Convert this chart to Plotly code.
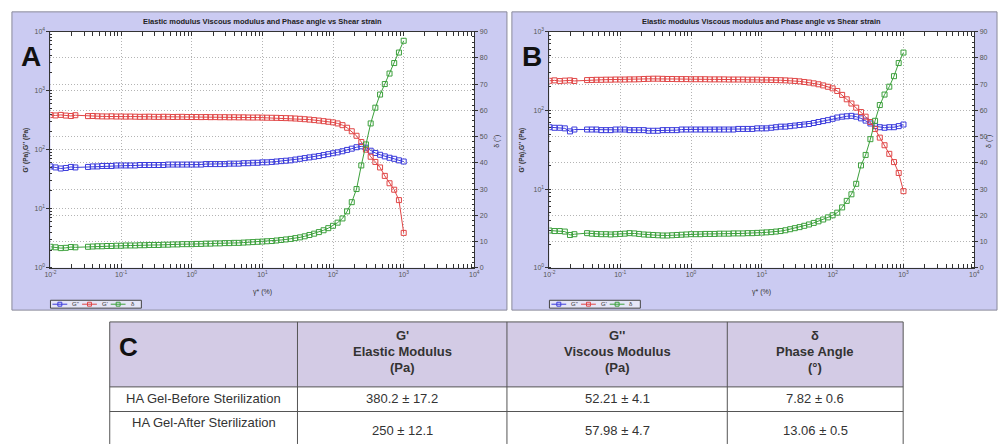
import plotly.graph_objects as go

# ---------------- data ----------------
strain = [0.0100, 0.0118, 0.0140, 0.0165, 0.0195, 0.0225,
          0.0340, 0.0396, 0.0462, 0.0539, 0.0628, 0.0732, 0.0854, 0.0996,
          0.116, 0.135, 0.158, 0.184, 0.215, 0.250, 0.292, 0.340, 0.397, 0.462, 0.539, 0.629, 0.733, 0.855, 0.997,
          1.16, 1.36, 1.58, 1.84, 2.15, 2.51, 2.92, 3.41, 3.97, 4.63, 5.40, 6.30, 7.34, 8.56, 9.98,
          11.6, 13.6, 15.8, 18.4, 21.5, 25.1, 29.2, 34.1, 39.7, 46.3, 54.0, 63.0, 73.4, 85.6, 99.8,
          116, 136, 158, 184, 215, 251, 292, 341, 397, 463, 540, 630, 734, 856, 1000]

a_storage = [385, 380, 388, 378, 372, 383,
             370, 372, 368, 366, 365, 367, 364, 365,
             363, 364, 362, 360, 361, 362, 360, 359, 361, 360, 358, 359, 360, 358, 357,
             357, 356, 357, 355, 356, 354, 355, 353, 354, 352, 353, 351, 350, 351, 349,
             348, 347, 346, 344, 342, 340, 337, 333, 328, 323, 317, 311, 304, 297, 290,
             278, 260, 235, 205, 172, 135, 100, 76, 62, 50, 36, 27, 21, 14, 3.9]
a_loss = [52, 50, 48, 49, 51, 50,
          51, 52, 52, 53, 53, 53, 54, 54,
          54, 54, 54, 55, 55, 55, 55, 55, 55, 56, 56, 56, 56, 56, 56,
          56, 56, 57, 57, 57, 57, 57, 58, 58, 58, 59, 59, 60, 60, 61,
          61, 62, 63, 64, 65, 66, 68, 70, 72, 74, 76, 78, 81, 84, 87,
          90, 94, 99, 104, 110, 114, 108, 96, 88, 82, 77, 73, 70, 66, 63]
a_phase = [8.0, 7.8, 7.5, 7.6, 7.9, 7.8,
           8.0, 8.1, 8.2, 8.2, 8.3, 8.3, 8.4, 8.4,
           8.5, 8.5, 8.5, 8.6, 8.6, 8.7, 8.7, 8.7, 8.8, 8.8, 8.9, 8.9, 9.0, 9.0, 9.0,
           9.1, 9.1, 9.2, 9.2, 9.3, 9.3, 9.4, 9.4, 9.5, 9.5, 9.6, 9.7, 9.8, 9.9, 10.0,
           10.1, 10.2, 10.4, 10.6, 10.8, 11.0, 11.3, 11.6, 12.0, 12.5, 13.0, 13.6, 14.3, 15.1, 16.0,
           17.2, 18.8, 21.5, 25.0, 30.0, 39.0, 47.0, 55.0, 61.0, 66.0, 70.0, 74.0, 78.0, 82.0, 86.5]

b_storage = [237, 240, 235, 238, 240, 236,
             242, 243, 244, 244, 245, 245, 246, 246,
             246, 247, 247, 248, 250, 251, 252, 252, 251, 250, 250, 249, 249, 249, 248,
             248, 248, 248, 247, 247, 247, 247, 246, 246, 246, 246, 245, 245, 245, 244,
             244, 243, 242, 241, 240, 238, 236, 233, 229, 225, 220, 214, 207, 199, 190,
             176, 157, 138, 122, 108, 95, 83, 71, 58, 45, 36, 28, 22, 16, 9.4]
b_loss = [61, 60, 60, 59, 54, 57,
          57, 57, 57, 56, 56, 56, 57, 57,
          57, 56, 56, 56, 56, 55, 55, 55, 56, 56, 56, 56, 57, 57, 57,
          57, 57, 57, 57, 57, 57, 57, 57, 57, 58, 58, 58, 58, 59, 59,
          59, 60, 61, 62, 62, 63, 64, 65, 66, 67, 69, 71, 73, 75, 78,
          81, 83, 84, 85, 83, 79, 74, 68, 63, 61, 60, 61, 61, 63, 66]
b_phase = [14.2, 14.0, 14.0, 13.8, 12.5, 12.8,
           13.2, 13.0, 12.9, 12.8, 12.8, 12.7, 12.8, 12.9,
           13.0, 13.2, 13.1, 12.9, 12.7, 12.6, 12.5, 12.4, 12.3, 12.3, 12.4, 12.5, 12.6, 12.7, 12.8,
           12.8, 12.8, 12.9, 12.9, 12.9, 13.0, 13.0, 13.0, 13.1, 13.1, 13.1, 13.2, 13.2, 13.3, 13.4,
           13.5, 13.6, 13.8, 14.0, 14.3, 14.7, 15.1, 15.5, 16.0, 16.5, 17.1, 17.7, 18.4, 19.2, 20.0,
           21.0, 23.0, 25.5, 28.0, 32.0, 39.0, 43.0, 49.0, 56.0, 62.0, 66.0, 69.0, 73.0, 78.0, 82.0]

x_tick_vals = [0.01, 0.1, 1, 10, 100, 1000, 10000]
x_tick_text = ["10<sup>-2</sup>", "10<sup>-1</sup>", "10<sup>0</sup>", "10<sup>1</sup>",
               "10<sup>2</sup>", "10<sup>3</sup>", "10<sup>4</sup>"]
ya_tick_vals = [1, 10, 100, 1000, 10000]
ya_tick_text = ["10<sup>0</sup>", "10<sup>1</sup>", "10<sup>2</sup>", "10<sup>3</sup>", "10<sup>4</sup>"]
yb_tick_vals = [1, 10, 100, 1000]
yb_tick_text = ["10<sup>0</sup>", "10<sup>1</sup>", "10<sup>2</sup>", "10<sup>3</sup>"]

chart_title = "Elastic modulus Viscous modulus and Phase angle vs Shear strain"
legend_names = ["G''", "G'", "δ"]

table_header = [["G'", "Elastic Modulus", "(Pa)"],
                ["G''", "Viscous Modulus", "(Pa)"],
                ["δ", "Phase Angle", "(°)"]]
table_rows = ["HA Gel-Before Sterilization", "HA Gel-After Sterilization"]
table_storage = ["380.2 ± 17.2", "250 ± 12.1"]
table_loss = ["52.21 ± 4.1", "57.98 ± 4.7"]
table_phase = ["7.82 ± 0.6", "13.06 ± 0.5"]

# ---------------- geometry helpers ----------------
W, H = 1005, 446
def fx(p): return p / W
def fy(p): return 1 - p / H

BLUE, RED, GREEN = "#3c3cdc", "#e04646", "#3ca03c"
COLORS = [BLUE, RED, GREEN]
PANEL_BG = "#cbcbf2"

fig = go.Figure()

def add_series(xa, ya, ya2, loss, storage, phase):
    for name, vals, col, yax in [(legend_names[0], loss, BLUE, ya),
                                 (legend_names[1], storage, RED, ya),
                                 (legend_names[2], phase, GREEN, ya2)]:
        fig.add_trace(go.Scatter(
            x=strain, y=vals, name=name, mode="lines+markers",
            xaxis=xa, yaxis=yax, showlegend=False,
            line=dict(color=col, width=1),
            marker=dict(symbol="square-open", size=5, color=col, line=dict(width=1, color=col)),
        ))

add_series("x", "y", "y2", a_loss, a_storage, a_phase)
add_series("x2", "y3", "y4", b_loss, b_storage, b_phase)

tickfont = dict(size=7, color="#555", family="Liberation Sans")
grid = dict(showgrid=True, gridcolor="#b4b4b4", griddash="1px,2px", gridwidth=1)

def xaxis(dom, anchor):
    return dict(type="log", range=[-2, 4], domain=dom, anchor=anchor,
                tickmode="array", tickvals=x_tick_vals, ticktext=x_tick_text,
                ticks="inside", ticklen=4, tickcolor="#333",
                showline=True, linecolor="#333", linewidth=1, mirror="allticks",
                tickfont=tickfont, zeroline=False,
                minor=dict(ticks="inside", ticklen=2, tickcolor="#333", dtick="D1", showgrid=False),
                **grid)

def ylog(dom, anchor, rng, tv, tt):
    return dict(type="log", range=rng, domain=dom, anchor=anchor,
                tickmode="array", tickvals=tv, ticktext=tt,
                ticks="outside", ticklen=3, tickcolor="#333",
                showline=True, linecolor="#333", linewidth=1,
                tickfont=tickfont, zeroline=False,
                minor=dict(ticks="inside", ticklen=2, tickcolor="#333", dtick="D1", showgrid=False),
                **grid)

def yright(overlay, anchor):
    return dict(range=[0, 90], overlaying=overlay, anchor=anchor, side="right",
                tickmode="linear", tick0=0, dtick=10,
                ticks="outside", ticklen=3, tickcolor="#333",
                showline=True, linecolor="#333", linewidth=1,
                tickfont=tickfont, zeroline=False,
                minor=dict(ticks="inside", ticklen=2, tickcolor="#333", dtick=2, showgrid=False),
                **grid)

ydom = [fy(268), fy(28)]
A_X = [fx(45), fx(474)]
B_X = [fx(550), fx(980)]

fig.update_layout(
    width=W, height=H, autosize=False,
    margin=dict(l=0, r=0, t=0, b=0, pad=0),
    paper_bgcolor="white", plot_bgcolor="white",
    showlegend=False,
    xaxis=xaxis(A_X, "y"),
    yaxis=ylog(ydom, "x", [0, 4], ya_tick_vals, ya_tick_text),
    yaxis2=yright("y", "x"),
    xaxis2=xaxis(B_X, "y3"),
    yaxis3=ylog(ydom, "x2", [0, 3], yb_tick_vals, yb_tick_text),
    yaxis4=yright("y3", "x2"),
)

shapes = []
ann = []

def A(x, y, text, size=7, color="#333", family="Liberation Sans", angle=0, xa="center"):
    ann.append(dict(x=fx(x), y=fy(y), xref="paper", yref="paper", text=text,
                    showarrow=False, xanchor=xa, yanchor="middle", textangle=angle,
                    font=dict(size=size, color=color, family=family)))

# panel backgrounds
for x0, x1 in [(6, 507), (512, 1003)]:
    shapes.append(dict(type="rect", xref="paper", yref="paper", layer="below",
                       x0=fx(x0), x1=fx(x1), y0=fy(311), y1=fy(8),
                       fillcolor=PANEL_BG, line=dict(color="#8a8a9a", width=1)))
for x0, x1 in [(45, 474), (550, 980)]:
    shapes.append(dict(type="rect", xref="paper", yref="paper", layer="below",
                       x0=fx(x0), x1=fx(x1), y0=fy(268), y1=fy(28),
                       fillcolor="white", line=dict(width=0)))

# small hand-made legends
for off in [0, 505]:
    shapes.append(dict(type="rect", xref="paper", yref="paper",
                       x0=fx(45 + off), x1=fx(137 + off), y0=fy(309), y1=fy(301),
                       fillcolor="#e6e6f8", line=dict(color="#444", width=1)))
    for lx, col, name in zip([47, 77, 106], COLORS, legend_names):
        shapes.append(dict(type="line", xref="paper", yref="paper",
                           x0=fx(lx + off), x1=fx(lx + 15 + off), y0=fy(305), y1=fy(305),
                           line=dict(color=col, width=1)))
        shapes.append(dict(type="rect", xref="paper", yref="paper",
                           x0=fx(lx + 5.5 + off), x1=fx(lx + 9.5 + off), y0=fy(307), y1=fy(303),
                           fillcolor="rgba(0,0,0,0)", line=dict(color=col, width=1)))
        A(lx + 18 + off, 305, name, size=6, color="#333", xa="left")

# table
cols = [105, 295, 507, 730, 908]
shapes.append(dict(type="rect", xref="paper", yref="paper", layer="below",
                   x0=fx(105), x1=fx(908), y0=fy(389), y1=fy(323),
                   fillcolor="#d3cbe5", line=dict(width=0)))
for yy in [323, 389, 414]:
    shapes.append(dict(type="line", xref="paper", yref="paper",
                       x0=fx(105), x1=fx(908), y0=fy(yy), y1=fy(yy),
                       line=dict(color="#555", width=1)))
for xx in cols:
    shapes.append(dict(type="line", xref="paper", yref="paper",
                       x0=fx(xx), x1=fx(xx), y0=fy(323), y1=fy(447),
                       line=dict(color="#555", width=1)))
fig.update_layout(shapes=shapes)

for cx, lx, rx, letter_x, letter in [(259.5, 20, 497, 25, "A"), (765, 522, 995, 532, "B")]:
    A(cx, 18, "<b>" + chart_title + "</b>", size=7.5, color="#222")
    A(cx, 293, "γ* (%)", size=7, color="#333")
    A(lx, 148, "<b>G' (Pa),G'' (Pa)</b>", size=6.5, angle=-90)
    A(rx, 140, "δ (°)", size=7, angle=-90)
    A(letter_x, 53, "<b>" + letter + "</b>", size=28, color="#111")

A(124, 348, "<b>C</b>", size=26, color="#111")
centers = [401, 618.5, 819]
for c, lines in zip(centers, table_header):
    for yy, t in zip([337, 353, 369], lines):
        A(c, yy, "<b>" + t + "</b>", size=13, color="#333", family="Liberation Sans")
row_y_label = [401, 425]
row_y_val = [401, 433]
for i in range(2):
    A(200, row_y_label[i], table_rows[i], size=13, color="#333", family="Liberation Sans")
    A(centers[0], row_y_val[i], table_storage[i], size=13, color="#333", family="Liberation Sans")
    A(centers[1], row_y_val[i], table_loss[i], size=13, color="#333", family="Liberation Sans")
    A(centers[2], row_y_val[i], table_phase[i], size=13, color="#333", family="Liberation Sans")
fig.update_layout(annotations=ann)

fig.write_html("out.html", config={"displayModeBar": False},
               post_script="document.body.style.margin='0px';document.body.style.overflow='hidden';")
